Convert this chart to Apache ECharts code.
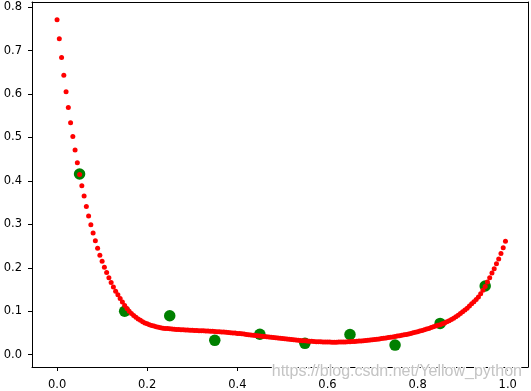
<!DOCTYPE html>
<html>
<head>
<meta charset="utf-8">
<script src="https://cdn.jsdelivr.net/npm/echarts@6/dist/echarts.min.js"></script>
<style>
html,body{margin:0;padding:0;background:#fff;}
#chart{width:531px;height:391px;}
</style>
</head>
<body>
<div id="chart"></div>
<script>
// Sample points (green)
var sampleX = [0.05, 0.15, 0.25, 0.35, 0.45, 0.55, 0.65, 0.75, 0.85, 0.95];
var sampleY = [0.416, 0.100, 0.0895, 0.033, 0.047, 0.026, 0.0465, 0.022, 0.072, 0.158];

// Fitted curve (red), sampled every 0.005 from 0 to 0.995
var fitStep = 0.005;
var fitY = [
  0.771, 0.727, 0.684, 0.643, 0.605, 0.569, 0.534, 0.502, 0.471, 0.442,
  0.415, 0.389, 0.365, 0.341, 0.319, 0.299, 0.280, 0.262, 0.245, 0.229,
  0.215, 0.201, 0.189, 0.177, 0.166, 0.156, 0.146, 0.138, 0.129, 0.121,
  0.113, 0.106, 0.100, 0.095, 0.090, 0.086, 0.082, 0.079, 0.076, 0.073,
  0.071, 0.069, 0.067, 0.066, 0.064, 0.063, 0.062, 0.061, 0.0605, 0.060,
  0.0595, 0.059, 0.0585, 0.058, 0.0578, 0.0575, 0.0572, 0.057, 0.0567, 0.0564,
  0.0561, 0.0558, 0.0555, 0.0552, 0.055, 0.0548, 0.0545, 0.0543, 0.054, 0.0537,
  0.0534, 0.053, 0.0527, 0.0523, 0.052, 0.0515, 0.0511, 0.0506, 0.0501, 0.0496,
  0.049, 0.0485, 0.0479, 0.0473, 0.0467, 0.0461, 0.0455, 0.0449, 0.0443, 0.0437,
  0.0431, 0.0425, 0.0418, 0.0412, 0.0406, 0.040, 0.0394, 0.0388, 0.0382, 0.0376,
  0.037, 0.0364, 0.0358, 0.0352, 0.0347, 0.0342, 0.0337, 0.0332, 0.0327, 0.0322,
  0.0318, 0.0314, 0.031, 0.0306, 0.0303, 0.030, 0.0297, 0.0295, 0.0293, 0.0291,
  0.029, 0.0289, 0.0288, 0.0288, 0.0288, 0.0289, 0.029, 0.0291, 0.0293, 0.0295,
  0.0298, 0.0301, 0.0304, 0.0308, 0.0312, 0.0316, 0.0321, 0.0326, 0.0331, 0.0337,
  0.0343, 0.0349, 0.0356, 0.0363, 0.037, 0.0377, 0.0385, 0.0393, 0.0401, 0.0409,
  0.0418, 0.0427, 0.0436, 0.0446, 0.0456, 0.0467, 0.0478, 0.049, 0.0502, 0.0515,
  0.0528, 0.0542, 0.0557, 0.0572, 0.0588, 0.0605, 0.0623, 0.0642, 0.0662, 0.0676,
  0.069, 0.071, 0.073, 0.076, 0.078, 0.081, 0.084, 0.087, 0.091, 0.095,
  0.099, 0.103, 0.107, 0.112, 0.117, 0.122, 0.127, 0.1325, 0.140, 0.148,
  0.157, 0.167, 0.177, 0.188, 0.198, 0.209, 0.220, 0.233, 0.246, 0.261
];

var xTicks = [0.0, 0.2, 0.4, 0.6, 0.8, 1.0];
var yTicks = [0.0, 0.1, 0.2, 0.3, 0.4, 0.5, 0.6, 0.7, 0.8];
var watermark = 'https://blog.csdn.net/Yellow_python';

var fitData = fitY.map(function (v, i) { return [i * fitStep, v]; });
var sampleData = sampleX.map(function (v, i) { return [v, sampleY[i]]; });

var labelFont = { fontFamily: 'DejaVu Sans', fontSize: 11.5, color: '#000' };
var XMIN = -0.0556, XMAX = 1.045, YMIN = -0.0284, YMAX = 0.8118;
var frameLine = { show: true, onZero: false, lineStyle: { color: '#000', width: 1 } };

var chart = echarts.init(document.getElementById('chart'), null, { renderer: 'canvas' });
chart.setOption({
  animation: false,
  backgroundColor: '#fff',
  grid: { left: 32, top: 2, width: 496, height: 367 },
  xAxis: [{
    type: 'value', min: XMIN, max: XMAX, position: 'bottom',
    axisLine: frameLine,
    splitLine: { show: false },
    axisTick: { show: true, length: 4, lineStyle: { color: '#000', width: 1 }, customValues: xTicks },
    axisLabel: Object.assign({ margin: 12, customValues: xTicks,
      formatter: function (v) { return v.toFixed(1); } }, labelFont)
  }, {
    type: 'value', min: XMIN, max: XMAX, position: 'top',
    axisLine: frameLine, splitLine: { show: false },
    axisTick: { show: false }, axisLabel: { show: false }
  }],
  yAxis: [{
    type: 'value', min: YMIN, max: YMAX, position: 'left',
    axisLine: frameLine,
    splitLine: { show: false },
    axisTick: { show: true, length: 4, lineStyle: { color: '#000', width: 1 }, customValues: yTicks },
    axisLabel: Object.assign({ margin: 10, customValues: yTicks,
      formatter: function (v) { return v.toFixed(1); } }, labelFont)
  }, {
    type: 'value', min: YMIN, max: YMAX, position: 'right',
    axisLine: frameLine, splitLine: { show: false },
    axisTick: { show: false }, axisLabel: { show: false }
  }],
  series: [
    {
      type: 'scatter', silent: true, z: 2,
      symbol: 'circle', symbolSize: 11.5,
      itemStyle: { color: '#008000', opacity: 1 },
      data: sampleData
    },
    {
      type: 'scatter', silent: true, z: 3,
      symbol: 'circle', symbolSize: 5,
      itemStyle: { color: '#ff0000', opacity: 1 },
      data: fitData
    }
  ],
  graphic: [{
    type: 'text', right: 8, top: 363, z: 100, silent: true,
    style: {
      text: watermark,
      font: '16px "Liberation Sans", Arial, sans-serif',
      fill: '#c4c4c4',
      stroke: '#fff',
      lineWidth: 2
    }
  }]
});
</script>
</body>
</html>
